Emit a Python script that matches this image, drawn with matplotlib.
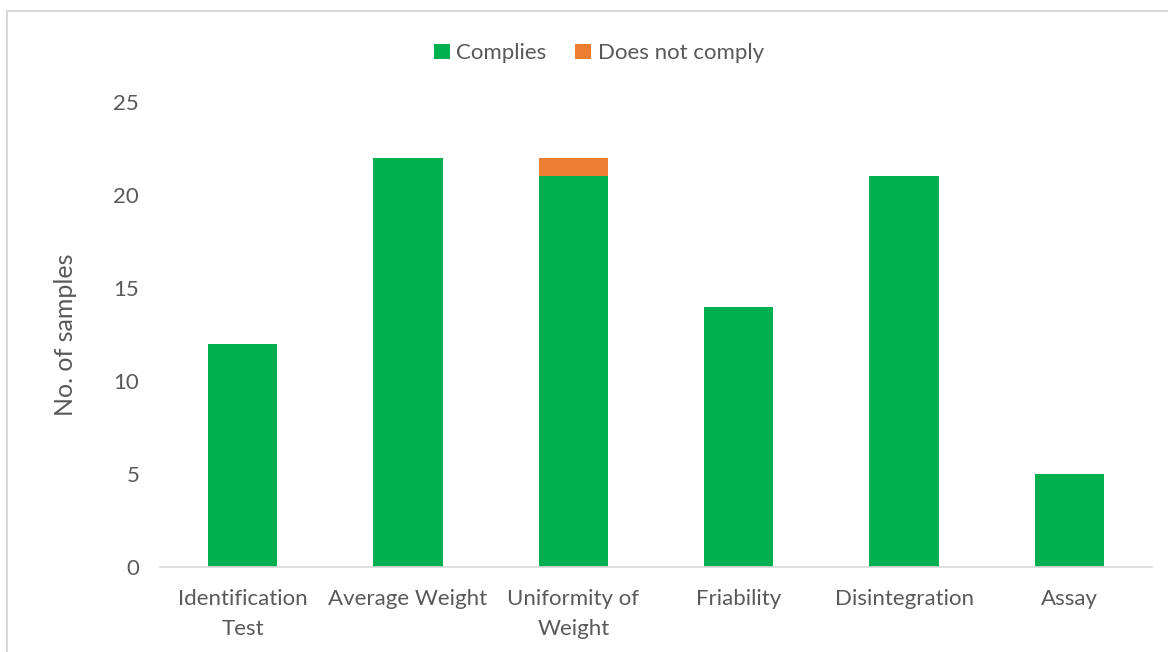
import matplotlib.pyplot as plt
from matplotlib.patches import Rectangle

tests = ["Identification\nTest", "Average Weight", "Uniformity of\nWeight",
         "Friability", "Disintegration", "Assay"]
complies = [12, 22, 21, 14, 21, 5]
not_comply = [0, 0, 1, 0, 0, 0]

green = "#00B050"
orange = "#ED7D31"
text_col = "#595959"

plt.rcParams["font.family"] = ["Lato", "DejaVu Sans"]

fig = plt.figure(figsize=(11.68, 6.52), dpi=100)
ax = fig.add_axes([0.137, 0.1304, 0.8493, 0.7132])

# light frame around the chart area
fig.patches.append(Rectangle((7 / 1168, -0.05), 1.2, 1 - 11 / 652 + 0.05,
                             transform=fig.transFigure, fill=False,
                             edgecolor="#d9d9d9", linewidth=1.5))

x = range(len(tests))
ax.bar(x, complies, width=0.42, color=green, label="Complies")
ax.bar(x, not_comply, width=0.42, bottom=complies, color=orange,
       label="Does not comply")

ax.set_xlim(-0.5, len(tests) - 0.5)
ax.set_ylim(0, 25)
ax.set_yticks([0, 5, 10, 15, 20, 25])
ax.set_xticks(list(x))
ax.set_xticklabels(tests)

for side in ["top", "right", "left"]:
    ax.spines[side].set_visible(False)
ax.spines["bottom"].set_color("#d9d9d9")
ax.spines["bottom"].set_linewidth(1.2)

ax.tick_params(axis="both", length=0, labelsize=16, colors=text_col)
ax.tick_params(axis="y", pad=15)
ax.tick_params(axis="x", pad=16)
for lbl in ax.get_xticklabels():
    lbl.set_linespacing(1.6)

ax.set_ylabel("No. of samples", fontsize=18, color=text_col, labelpad=26)

ax.legend(loc="center", bbox_to_anchor=(0.4425, 1.105), ncol=2, frameon=False,
          fontsize=16, labelcolor=text_col, handlelength=0.7, handleheight=0.7,
          handletextpad=0.3, columnspacing=1.3)

fig.savefig("out.png", dpi=100)
